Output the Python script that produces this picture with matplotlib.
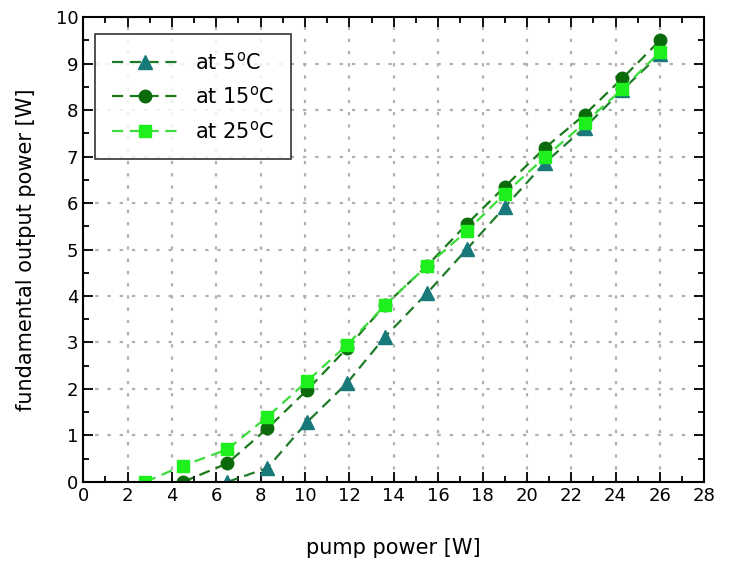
import matplotlib
matplotlib.use("Agg")
import matplotlib.pyplot as plt
from matplotlib.ticker import MultipleLocator

# pump power [W] and fundamental output power [W]
pump_5 = [6.5, 8.3, 10.1, 11.9, 13.6, 15.5, 17.3, 19.0, 20.8, 22.6, 24.3, 26.0]
out_5 = [0.0, 0.3, 1.29, 2.13, 3.12, 4.06, 5.01, 5.91, 6.86, 7.62, 8.43, 9.2]

pump_15 = [4.5, 6.5, 8.3, 10.1, 11.9, 13.6, 15.5, 17.3, 19.0, 20.8, 22.6, 24.3, 26.0]
out_15 = [0.0, 0.4, 1.15, 1.98, 2.88, 3.8, 4.65, 5.55, 6.35, 7.18, 7.9, 8.68, 9.5]

pump_25 = [2.8, 4.5, 6.5, 8.3, 10.1, 11.9, 13.6, 15.5, 17.3, 19.0, 20.8, 22.6, 24.3, 26.0]
out_25 = [0.0, 0.35, 0.7, 1.4, 2.17, 2.95, 3.8, 4.65, 5.4, 6.2, 6.98, 7.72, 8.45, 9.25]

fig = plt.figure(figsize=(7.36, 5.69), dpi=100)
ax = fig.add_axes([0.113, 0.153, 0.844, 0.817])

dash = (0, (5, 3))
ax.plot(pump_5, out_5, linestyle=dash, color="#1f7a2a", lw=1.6,
        marker="^", ms=10, mfc="#17797a", mec="#17797a", label="at 5$^{\\rm o}$C")
ax.plot(pump_15, out_15, linestyle=dash, color="#1a7a1a", lw=1.6,
        marker="o", ms=9, mfc="#0b6b0b", mec="#0b6b0b", label="at 15$^{\\rm o}$C")
ax.plot(pump_25, out_25, linestyle=dash, color="#3ddc3d", lw=1.6,
        marker="s", ms=8, mfc="#1ef01e", mec="#1ef01e", label="at 25$^{\\rm o}$C")

ax.set_xlim(0, 28)
ax.set_ylim(0, 10)
ax.xaxis.set_major_locator(MultipleLocator(2))
ax.xaxis.set_minor_locator(MultipleLocator(1))
ax.yaxis.set_major_locator(MultipleLocator(1))
ax.yaxis.set_minor_locator(MultipleLocator(0.5))
ax.tick_params(which="both", direction="in", top=True, right=True, labelsize=13, width=1.3)
ax.tick_params(which="major", length=7)
ax.tick_params(which="minor", length=4)
for s in ax.spines.values():
    s.set_linewidth(1.5)
ax.grid(True, which="major", color="#b0b0b0", linestyle=(0, (1.5, 4)), lw=1.6)

ax.set_xlabel("pump power [W]", fontsize=15, labelpad=24)
ax.set_ylabel("fundamental output power [W]", fontsize=15, labelpad=14)

leg = ax.legend(loc="upper left", fontsize=15, frameon=True, fancybox=False,
                edgecolor="black", handlelength=3.2, borderpad=0.8,
                labelspacing=0.6, bbox_to_anchor=(0.003, 0.985))
leg.get_frame().set_linewidth(1.2)

fig.savefig("out.png", dpi=100)
